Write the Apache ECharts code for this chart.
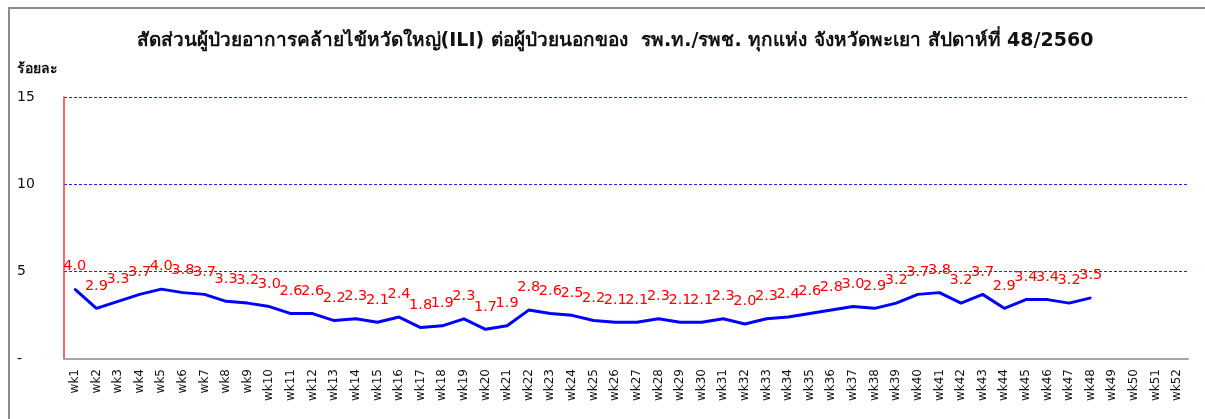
<!DOCTYPE html>
<html>
<head>
<meta charset="utf-8">
<script src="https://cdn.jsdelivr.net/npm/echarts@6/dist/echarts.min.js"></script>
<style>
  html, body { margin: 0; padding: 0; background: #fff; }
  #frame { position: absolute; left: 8px; top: 7px; width: 1400px; height: 600px; border-left: 2px solid #8c8c8c; border-top: 2px solid #8c8c8c; }
  #chart { position: absolute; left: 0; top: 0; width: 1205px; height: 419px; }
</style>
</head>
<body>
<div id="frame"></div>
<div id="chart"></div>
<script>
// สัปดาห์ wk1..wk52
const weeks = Array.from({ length: 52 }, (_, i) => 'wk' + (i + 1));

// ร้อยละ ILI ต่อผู้ป่วยนอก ปี 2560 (ถึงสัปดาห์ที่ 48)
const iliRate = [
  4.0, 2.9, 3.3, 3.7, 4.0, 3.8, 3.7, 3.3, 3.2, 3.0,
  2.6, 2.6, 2.2, 2.3, 2.1, 2.4, 1.8, 1.9, 2.3, 1.7,
  1.9, 2.8, 2.6, 2.5, 2.2, 2.1, 2.1, 2.3, 2.1, 2.1,
  2.3, 2.0, 2.3, 2.4, 2.6, 2.8, 3.0, 2.9, 3.2, 3.7,
  3.8, 3.2, 3.7, 2.9, 3.4, 3.4, 3.2, 3.5
];

const yTicks = [0, 5, 10, 15];

const chart = echarts.init(document.getElementById('chart'));
const font = 'Tahoma, "DejaVu Sans", "Noto Sans", sans-serif';

chart.setOption({
  animation: false,
  title: {
    text: 'สัดส่วนผู้ป่วยอาการคล้ายไข้หวัดใหญ่(ILI) ต่อผู้ป่วยนอกของ  รพ.ท./รพช. ทุกแห่ง จังหวัดพะเยา สัปดาห์ที่ 48/2560',
    left: 610,
    textAlign: 'center',
    top: 27,
    textStyle: { fontSize: 19, fontWeight: 'bold', color: '#111', fontFamily: font }
  },
  graphic: [{
    type: 'text',
    left: 17,
    top: 62,
    style: { text: 'ร้อยละ', fontSize: 14, fontWeight: 'bold', fill: '#111', fontFamily: font }
  }],
  grid: { left: 64, right: 17, top: 97, bottom: 60 },
  xAxis: {
    type: 'category',
    data: weeks,
    boundaryGap: true,
    axisLine: { lineStyle: { color: '#a6a6a6', width: 2 } },
    axisTick: { show: false },
    axisLabel: { rotate: 90, interval: 0, margin: 10, fontSize: 12, color: '#111', fontFamily: font }
  },
  yAxis: {
    type: 'value',
    min: yTicks[0],
    max: yTicks[yTicks.length - 1],
    interval: 5,
    axisLine: { show: true, lineStyle: { color: '#ff3333', width: 1.5 } },
    axisTick: { show: false },
    axisLabel: {
      align: 'left',
      margin: 47,
      fontSize: 14,
      color: '#111',
      fontFamily: font,
      formatter: v => (v === 0 ? '-' : String(v))
    },
    splitLine: {
      show: true,
      showMinLine: false,
      lineStyle: { color: '#1f1fff', type: [3, 2], width: 1 }
    }
  },
  series: [{
    type: 'line',
    data: iliRate,
    showSymbol: true,
    symbol: 'circle',
    symbolSize: 2,
    itemStyle: { color: '#0000ff' },
    lineStyle: { color: '#0000ff', width: 3 },
    label: {
      show: true,
      position: 'top',
      distance: 14,
      color: '#ff0000',
      fontSize: 14.5,
      fontFamily: font,
      formatter: p => p.value.toFixed(1)
    },
    labelLayout: { hideOverlap: false }
  }]
});
</script>
</body>
</html>
